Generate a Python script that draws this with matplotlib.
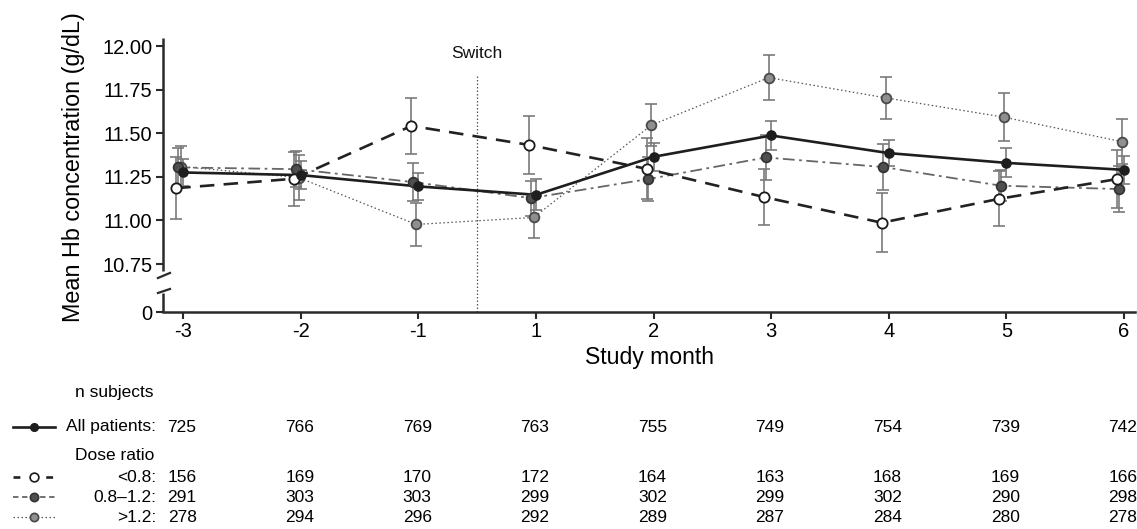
import matplotlib
matplotlib.use("Agg")
import matplotlib.pyplot as plt
from matplotlib.lines import Line2D
import matplotlib.transforms as mtransforms
import numpy as np

# ---------------- data ----------------
months = ["-3", "-2", "-1", "1", "2", "3", "4", "5", "6"]

all_mean = [11.275, 11.26, 11.195, 11.147, 11.365, 11.487, 11.386, 11.330, 11.290]
all_err = [0.080, 0.080, 0.075, 0.090, 0.080, 0.082, 0.076, 0.083, 0.080]

low_mean = [11.185, 11.239, 11.542, 11.433, 11.296, 11.134, 10.987, 11.124, 11.237]
low_err = [0.177, 0.155, 0.160, 0.167, 0.175, 0.160, 0.170, 0.158, 0.165]

mid_mean = [11.304, 11.294, 11.220, 11.128, 11.237, 11.361, 11.306, 11.199, 11.180]
mid_err = [0.110, 0.105, 0.107, 0.100, 0.128, 0.128, 0.130, 0.090, 0.132]

high_mean = [11.309, 11.246, 10.977, 11.017, 11.546, 11.819, 11.702, 11.592, 11.452]
high_err = [0.120, 0.128, 0.122, 0.118, 0.120, 0.131, 0.122, 0.138, 0.130]

n_all = [725, 766, 769, 763, 755, 749, 754, 739, 742]
n_low = [156, 169, 170, 172, 164, 163, 168, 169, 166]
n_mid = [291, 303, 303, 299, 302, 299, 302, 290, 298]
n_high = [278, 294, 296, 292, 289, 287, 284, 280, 278]

yticks_real = [10.75, 11.00, 11.25, 11.50, 11.75, 12.00]

# ---------------- figure ----------------
plt.rcParams['font.family'] = ['Liberation Sans', 'DejaVu Sans']
W, H = 1137, 529
fig = plt.figure(figsize=(W / 100, H / 100), dpi=100)


def fx(px):
    return px / W


def fy(py):
    return 1 - py / H


ax_l, ax_r, ax_t, ax_b = 163.3, 1135, 38, 312
ax = fig.add_axes([fx(ax_l), fy(ax_b), fx(ax_r) - fx(ax_l), fy(ax_t) - fy(ax_b)])

ZERO_POS = 10.475  # where the broken axis shows "0"
ax.set_ylim(ZERO_POS, 12.046)
ax.set_xlim(-0.17, 8.094)

x = np.arange(len(months))
ecol = '#7a7a7a'
spine_col = '#2a2a2a'

series = [
    dict(m=high_mean, e=high_err, off=-0.02, color='#555555', lw=0.9, dashes=(1.2, 2.0),
         leg_dashes=(1.2, 2.0), mfc='#8f8f8f', mec='#4a4a4a', ms=7.0),
    dict(m=mid_mean, e=mid_err, off=-0.045, color='#666666', lw=1.3, dashes=(6.5, 2.5, 1.5, 2.5),
         leg_dashes=(3.0, 2.0), mfc='#4f4f4f', mec='#333333', ms=7.0),
    dict(m=low_mean, e=low_err, off=-0.06, color='#222222', lw=1.9, dashes=(5.5, 3.5),
         leg_dashes=(2.6, 3.6), mfc='white', mec='#1a1a1a', ms=7.4),
    dict(m=all_mean, e=all_err, off=0.0, color='#1e1e1e', lw=1.9, dashes=None,
         leg_dashes=None, mfc='#1e1e1e', mec='#1e1e1e', ms=6.3),
]

for i, s in enumerate(series):
    xs = x + s['off']
    ax.errorbar(xs, s['m'], yerr=s['e'], fmt='none', ecolor=ecol, elinewidth=1.2,
                capsize=4, capthick=1.2, zorder=2 + i * 0.01)
for i, s in enumerate(series):
    xs = x + s['off']
    ln, = ax.plot(xs, s['m'], color=s['color'], lw=s['lw'], zorder=3 + i * 0.01)
    if s['dashes'] is not None:
        ln.set_dashes(s['dashes'])
    ax.plot(xs, s['m'], ls='none', marker='o', ms=s['ms'], mfc=s['mfc'], mec=s['mec'],
            mew=1.3, zorder=4 + i * 0.01)

# switch line
ax.plot([2.5, 2.5], [ZERO_POS, 11.828], color='#555555', lw=0.9, ls=(0, (1.2, 1.6)), zorder=1)
ax.text(2.5, 11.955, "Switch", ha='center', va='center', fontsize=12.5, color='#111111')

# axes styling
for sp in ['top', 'right', 'left']:
    ax.spines[sp].set_visible(False)
ax.spines['bottom'].set_color(spine_col)
ax.spines['bottom'].set_linewidth(1.8)

ax.set_xticks(x)
ax.set_xticklabels(months, fontsize=14.5)
ax.set_yticks([ZERO_POS] + yticks_real)
ax.set_yticklabels(["0"] + [f"{v:.2f}" for v in yticks_real], fontsize=14.5)
ax.tick_params(axis='both', direction='out', length=5, width=1.5, color=spine_col, pad=3)
ax.tick_params(axis='x', pad=2)

# broken left spine
ytr = ax.get_yaxis_transform()
upper_start, lower_end = 10.71, 10.584
ax.plot([0, 0], [upper_start, 12.046], color=spine_col, lw=1.8, transform=ytr,
        clip_on=False, solid_capstyle='butt', zorder=5)
ax.plot([0, 0], [ZERO_POS, lower_end], color=spine_col, lw=1.8, transform=ytr,
        clip_on=False, solid_capstyle='butt', zorder=5)
ax.plot([-0.0055, 0.0069], [10.67, 10.699], color=spine_col, lw=1.6, transform=ytr,
        clip_on=False, zorder=5)
ax.plot([-0.0055, 0.0069], [10.584, 10.607], color=spine_col, lw=1.6, transform=ytr,
        clip_on=False, zorder=5)

# axis labels
fig.text(fx(74), fy(167), "Mean Hb concentration (g/dL)", rotation=90, ha='center',
         va='center', fontsize=16.8)
ax.set_xlabel("Study month", fontsize=16.6, labelpad=4)

# ---------------- n subjects table ----------------
tr = mtransforms.blended_transform_factory(ax.transData, fig.transFigure)
fs = 12.5
rows = [(427, n_all), (477, n_low), (497, n_mid), (517, n_high)]
for ypx, vals in rows:
    for xi, v in zip(x, vals):
        fig.text(xi - 0.01, fy(ypx), str(v), transform=tr, ha='center', va='center', fontsize=fs)

fig.text(fx(75), fy(392), "n subjects", ha='left', va='center', fontsize=fs)
fig.text(fx(75), fy(456), "Dose ratio", ha='left', va='center', fontsize=fs)
lab_x = fx(156)
fig.text(lab_x, fy(427), "All patients:", ha='right', va='center', fontsize=fs)
fig.text(lab_x, fy(477), "<0.8:", ha='right', va='center', fontsize=fs)
fig.text(lab_x, fy(497), "0.8\u20131.2:", ha='right', va='center', fontsize=fs)
fig.text(lab_x, fy(517), ">1.2:", ha='right', va='center', fontsize=fs)

# legend symbols
leg_rows = [(427, series[3]), (477, series[2]), (497, series[1]), (517, series[0])]
for ypx, s in leg_rows:
    ln = Line2D([fx(13), fx(55)], [fy(ypx), fy(ypx)], color=s['color'], lw=s['lw'],
                transform=fig.transFigure)
    if s['leg_dashes'] is not None:
        ln.set_dashes(s['leg_dashes'])
    fig.add_artist(ln)
    mk = Line2D([fx(34)], [fy(ypx)], ls='none', marker='o', ms=s['ms'] * 0.85,
                mfc=s['mfc'], mec=s['mec'], mew=1.2, transform=fig.transFigure)
    fig.add_artist(mk)

fig.savefig("out.png", dpi=100)
